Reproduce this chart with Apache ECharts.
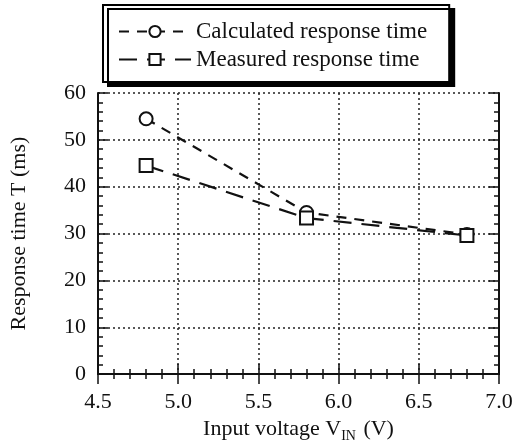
<!DOCTYPE html>
<html>
<head>
<meta charset="utf-8">
<script src="https://cdn.jsdelivr.net/npm/echarts@6/dist/echarts.min.js"></script>
<style>
  html, body { margin: 0; padding: 0; background: #fff; }
  #main { width: 516px; height: 448px; }
</style>
</head>
<body>
<div id="main"></div>
<script>
var voltage = [4.8, 5.8, 6.8];
var calculated = [54.5, 34.5, 29.8];
var measured = [44.5, 33.3, 29.6];
var seriesNames = ["Calculated response time", "Measured response time"];

var myChart = echarts.init(document.getElementById("main"));
var font = "'Liberation Serif', 'DejaVu Serif', serif";

function pairs(xs, ys) {
    return xs.map(function (x, i) { return [x, ys[i]]; });
}

var option = {
    animation: false,
    backgroundColor: "#fff",
    textStyle: { fontFamily: font },
    legend: {
        left: 103,
        top: 5,
        orient: "vertical",
        itemWidth: 72,
        itemHeight: 14,
        itemGap: 5,
        padding: [15, 22, 11, 15],
        borderColor: "#000",
        borderWidth: 2,
        backgroundColor: "#fff",
        shadowColor: "#000",
        shadowBlur: 0,
        shadowOffsetX: 5,
        shadowOffsetY: 4,
        textStyle: { fontFamily: font, fontSize: 23, color: "#111" },
        data: seriesNames,
    },
    grid: {
        left: 98,
        right: 17,
        top: 93,
        bottom: 73,
    },
    xAxis: [
        {
            type: "value",
            min: 4.5,
            max: 7.0,
            interval: 0.5,
            name: "{a|Input voltage V}{s|IN}{a| (V)}",
            nameLocation: "middle",
            nameGap: 40,
            nameTextStyle: {
                rich: {
                    a: { fontFamily: font, fontSize: 22, color: "#111" },
                    s: { fontFamily: font, fontSize: 14, color: "#111", padding: [14, 2, 0, 0] },
                },
            },
            axisLine: { lineStyle: { color: "#111", width: 2 } },
            axisTick: { inside: true, length: 10, lineStyle: { color: "#111", width: 1.5 } },
            minorTick: { show: true, splitNumber: 5, length: 5, lineStyle: { color: "#111", width: 1.5 } },
            splitLine: { show: true, lineStyle: { color: "#222", type: [2, 3], width: 1.5 } },
            axisLabel: {
                fontFamily: font, fontSize: 22, color: "#111", margin: 17,
                formatter: function (v) { return v.toFixed(1); },
            },
        },
        {
            type: "value",
            position: "top",
            min: 4.5,
            max: 7.0,
            interval: 0.5,
            axisLine: { lineStyle: { color: "#111", width: 2 } },
            axisTick: { inside: true, length: 10, lineStyle: { color: "#111", width: 1.5 } },
            minorTick: { show: true, splitNumber: 5, length: 5, lineStyle: { color: "#111", width: 1.5 } },
            splitLine: { show: false },
            axisLabel: { show: false },
        },
    ],
    yAxis: [
        {
            type: "value",
            min: 0,
            max: 60,
            interval: 10,
            name: "Response time T (ms)",
            nameLocation: "middle",
            nameGap: 68,
            nameTextStyle: { fontFamily: font, fontSize: 22, color: "#111" },
            axisLine: { show: true, lineStyle: { color: "#111", width: 2 } },
            axisTick: { show: true, inside: true, length: 10, lineStyle: { color: "#111", width: 1.5 } },
            minorTick: { show: true, splitNumber: 5, length: 5, lineStyle: { color: "#111", width: 1.5 } },
            splitLine: { show: true, lineStyle: { color: "#222", type: [2, 3], width: 1.5 } },
            axisLabel: { fontFamily: font, fontSize: 22, color: "#111", margin: 12 },
        },
        {
            type: "value",
            position: "right",
            min: 0,
            max: 60,
            interval: 10,
            axisLine: { show: true, lineStyle: { color: "#111", width: 2 } },
            axisTick: { show: true, inside: true, length: 10, lineStyle: { color: "#111", width: 1.5 } },
            minorTick: { show: true, splitNumber: 5, length: 5, lineStyle: { color: "#111", width: 1.5 } },
            splitLine: { show: false },
            axisLabel: { show: false },
        },
    ],
    series: [
        {
            name: seriesNames[0],
            type: "line",
            symbol: "circle",
            symbolSize: 13,
            itemStyle: { color: "#fff", borderColor: "#111", borderWidth: 2 },
            lineStyle: { color: "#111", width: 2.2, type: [10, 8] },
            data: pairs(voltage, calculated),
            z: 3,
        },
        {
            name: seriesNames[1],
            type: "line",
            symbol: "rect",
            symbolSize: 13,
            itemStyle: { color: "#fff", borderColor: "#111", borderWidth: 2 },
            lineStyle: { color: "#111", width: 2.2, type: [18, 10] },
            data: pairs(voltage, measured),
            z: 4,
        },
    ],
};

option && myChart.setOption(option);
</script>
</body>
</html>
